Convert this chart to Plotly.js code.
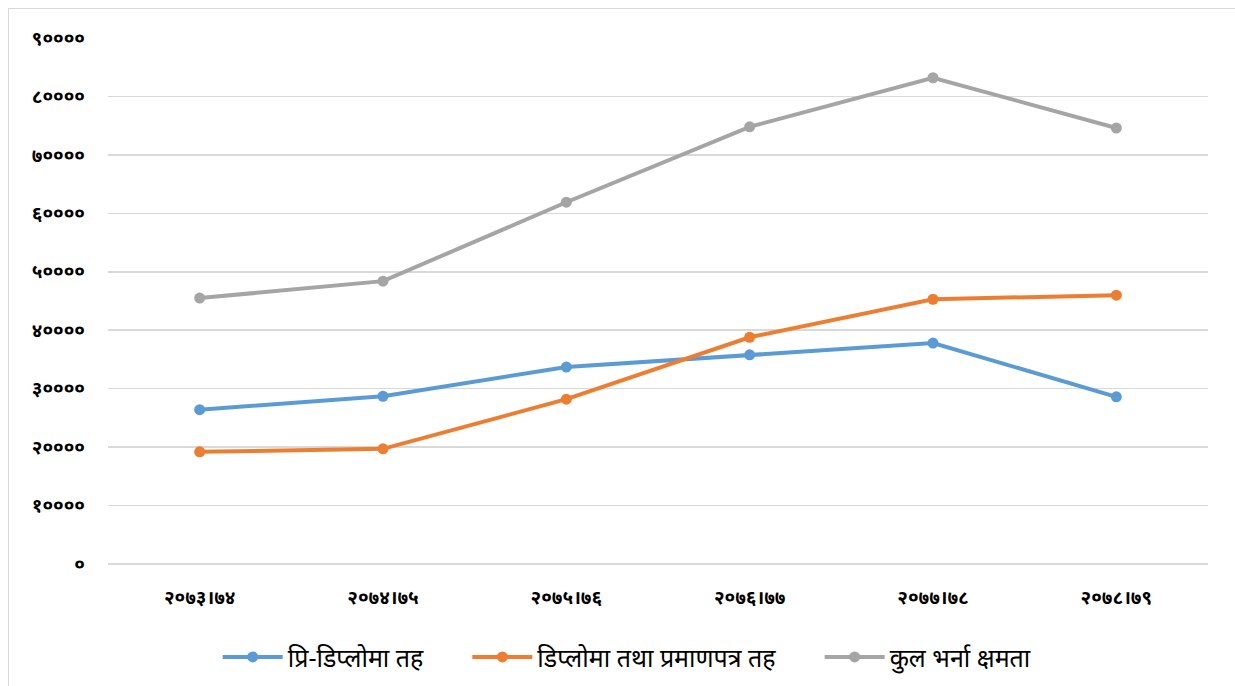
<!DOCTYPE html>
<html>
<head>
<meta charset="utf-8">
<script src="https://cdn.plot.ly/plotly-3.0.1.min.js"></script>
<style>
html,body{margin:0;padding:0;background:#fff;}
#wrap{position:relative;width:1235px;height:686px;}
#chart{position:absolute;left:0;top:0;width:1235px;height:686px;}
#frame{position:absolute;left:8px;top:8px;width:1240px;height:700px;border-left:1.5px solid #d9d9d9;border-top:1.5px solid #d9d9d9;pointer-events:none;}
</style>
</head>
<body>
<div id="wrap"><div id="chart"></div><div id="frame"></div></div>
<script>
const categories = ["२०७३।७४", "२०७४।७५", "२०७५।७६", "२०७६।७७", "२०७७।७८", "२०७८।७९"];
const preDiploma = [26400, 28700, 33700, 35800, 37800, 28600];
const diplomaCert = [19200, 19700, 28200, 38800, 45300, 46000];
const totalCapacity = [45500, 48400, 61900, 74800, 83200, 74600];
const seriesNames = ["प्रि-डिप्लोमा तह", "डिप्लोमा तथा प्रमाणपत्र तह", "कुल भर्ना क्षमता"];
const yTickVals = [0, 10000, 20000, 30000, 40000, 50000, 60000, 70000, 80000, 90000];
const yTickText = ["०", "१००००", "२००००", "३००००", "४००००", "५००००", "६००००", "७००००", "८००००", "९००००"];

const colors = ["#5B9BD5", "#ED7D31", "#A5A5A5"];
const dataSets = [preDiploma, diplomaCert, totalCapacity];
const traces = dataSets.map((vals, i) => ({
  x: categories,
  y: vals,
  name: seriesNames[i] + (i < 2 ? "\u00a0\u00a0\u00a0\u00a0\u00a0\u00a0" : ""),
  type: "scatter",
  mode: "lines+markers",
  line: {color: colors[i], width: 4},
  marker: {color: colors[i], size: 11}
}));

const layout = {
  width: 1235, height: 686,
  margin: {l: 108, r: 27, t: 38, b: 122},
  paper_bgcolor: "#ffffff",
  plot_bgcolor: "#ffffff",
  font: {family: "'Noto Sans', 'Noto Sans Devanagari', sans-serif", color: "#000"},
  showlegend: true,
  legend: {
    orientation: "h", x: 0.472, xanchor: "center",
    yref: "container", y: 0.042, yanchor: "middle",
    font: {size: 25, color: "#000"}, itemwidth: 60, tracegroupgap: 0
  },
  xaxis: {
    type: "category", range: [-0.5, 5.5],
    showgrid: false, zeroline: false, showline: false,
    ticks: "", ticklabelstandoff: 20,
    tickfont: {size: 19, color: "#000", weight: "bold"}
  },
  yaxis: {
    range: [0, 90000], tickvals: yTickVals, ticktext: yTickText,
    showgrid: true, gridcolor: "#d9d9d9", gridwidth: 1.5,
    zeroline: true, zerolinecolor: "#d9d9d9", zerolinewidth: 1.5,
    showline: false, ticks: "", ticklabelstandoff: 22,
    tickfont: {size: 19, color: "#000", weight: "bold"}
  }
};
Plotly.newPlot("chart", traces, layout, {displayModeBar: false, staticPlot: true});
</script>
</body>
</html>
